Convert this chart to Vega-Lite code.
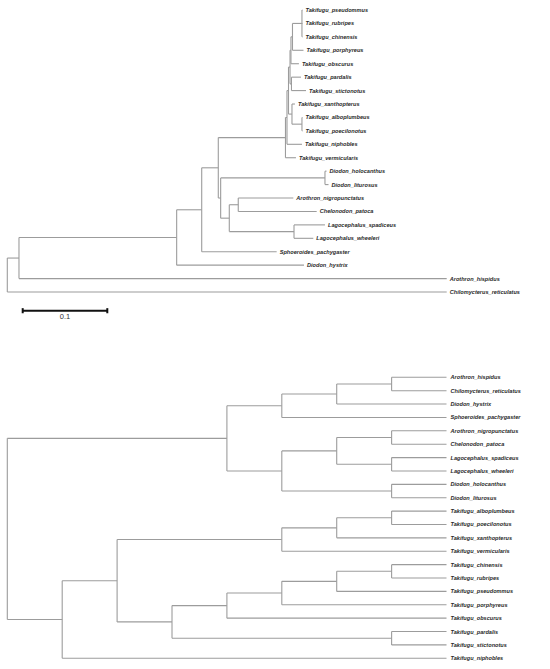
{
  "$schema": "https://vega.github.io/schema/vega-lite/v6.json",
  "padding": 0,
  "spacing": 0,
  "background": "white",
  "config": {"view": {"stroke": null}, "concat": {"spacing": 0}},
  "datasets": {
    "topV": [
      {"node": "P1", "x": 0.3483, "y": 1, "y2": 3},
      {"node": "P2", "x": 0.3371, "y": 2, "y2": 4},
      {"node": "P3", "x": 0.3353, "y": 3, "y2": 5},
      {"node": "P4", "x": 0.3359, "y": 6, "y2": 7},
      {"node": "P5", "x": 0.3342, "y": 4, "y2": 6.5},
      {"node": "X1", "x": 0.3483, "y": 9, "y2": 10},
      {"node": "X2", "x": 0.3365, "y": 8, "y2": 9.5},
      {"node": "T2", "x": 0.3324, "y": 5.25, "y2": 8.75},
      {"node": "T1", "x": 0.3306, "y": 7, "y2": 11},
      {"node": "T0", "x": 0.3288, "y": 9, "y2": 12},
      {"node": "Dio", "x": 0.3755, "y": 13, "y2": 14},
      {"node": "G", "x": 0.273, "y": 15, "y2": 16},
      {"node": "H", "x": 0.3389, "y": 17, "y2": 18},
      {"node": "F", "x": 0.2624, "y": 15.5, "y2": 17.5},
      {"node": "E", "x": 0.2522, "y": 13.5, "y2": 16.5},
      {"node": "D", "x": 0.2494, "y": 10.5, "y2": 15},
      {"node": "C", "x": 0.2298, "y": 12.75, "y2": 19},
      {"node": "B", "x": 0.2002, "y": 15.875, "y2": 20},
      {"node": "A", "x": 0.0138, "y": 17.94, "y2": 21},
      {"node": "R", "x": 0, "y": 19.47, "y2": 22}
    ],
    "topH": [
      {"x": 0.3483, "x2": 0.3489, "y": 1},
      {"x": 0.3483, "x2": 0.3489, "y": 2},
      {"x": 0.3483, "x2": 0.3489, "y": 3},
      {"x": 0.3371, "x2": 0.3483, "y": 2},
      {"x": 0.3371, "x2": 0.3501, "y": 4},
      {"x": 0.3353, "x2": 0.3371, "y": 3},
      {"x": 0.3353, "x2": 0.3447, "y": 5},
      {"x": 0.3359, "x2": 0.3471, "y": 6},
      {"x": 0.3359, "x2": 0.3531, "y": 7},
      {"x": 0.3342, "x2": 0.3353, "y": 4},
      {"x": 0.3342, "x2": 0.3359, "y": 6.5},
      {"x": 0.3483, "x2": 0.3489, "y": 9},
      {"x": 0.3483, "x2": 0.3489, "y": 10},
      {"x": 0.3365, "x2": 0.34, "y": 8},
      {"x": 0.3365, "x2": 0.3483, "y": 9.5},
      {"x": 0.3324, "x2": 0.3342, "y": 5.25},
      {"x": 0.3324, "x2": 0.3365, "y": 8.75},
      {"x": 0.3306, "x2": 0.3324, "y": 7},
      {"x": 0.3306, "x2": 0.3483, "y": 11},
      {"x": 0.3288, "x2": 0.3306, "y": 9},
      {"x": 0.3288, "x2": 0.3412, "y": 12},
      {"x": 0.3755, "x2": 0.3773, "y": 13},
      {"x": 0.3755, "x2": 0.3797, "y": 14},
      {"x": 0.273, "x2": 0.3381, "y": 15},
      {"x": 0.273, "x2": 0.3657, "y": 16},
      {"x": 0.3389, "x2": 0.3755, "y": 17},
      {"x": 0.3389, "x2": 0.3617, "y": 18},
      {"x": 0.2624, "x2": 0.273, "y": 15.5},
      {"x": 0.2624, "x2": 0.3389, "y": 17.5},
      {"x": 0.2522, "x2": 0.3755, "y": 13.5},
      {"x": 0.2522, "x2": 0.2624, "y": 16.5},
      {"x": 0.2494, "x2": 0.3288, "y": 10.5},
      {"x": 0.2494, "x2": 0.2522, "y": 15},
      {"x": 0.2298, "x2": 0.2494, "y": 12.75},
      {"x": 0.2298, "x2": 0.3184, "y": 19},
      {"x": 0.2002, "x2": 0.2298, "y": 15.875},
      {"x": 0.2002, "x2": 0.3507, "y": 20},
      {"x": 0.0138, "x2": 0.2002, "y": 17.94},
      {"x": 0.0138, "x2": 0.5194, "y": 21},
      {"x": 0, "x2": 0.0138, "y": 19.47},
      {"x": 0, "x2": 0.5194, "y": 22}
    ],
    "topTips": [
      {"name": "Takifugu_pseudommus", "x": 0.3489, "y": 1},
      {"name": "Takifugu_rubripes", "x": 0.3489, "y": 2},
      {"name": "Takifugu_chinensis", "x": 0.3489, "y": 3},
      {"name": "Takifugu_porphyreus", "x": 0.3501, "y": 4},
      {"name": "Takifugu_obscurus", "x": 0.3447, "y": 5},
      {"name": "Takifugu_pardalis", "x": 0.3471, "y": 6},
      {"name": "Takifugu_stictonotus", "x": 0.3531, "y": 7},
      {"name": "Takifugu_xanthopterus", "x": 0.34, "y": 8},
      {"name": "Takifugu_alboplumbeus", "x": 0.3489, "y": 9},
      {"name": "Takifugu_poecilonotus", "x": 0.3489, "y": 10},
      {"name": "Takifugu_niphobles", "x": 0.3483, "y": 11},
      {"name": "Takifugu_vermicularis", "x": 0.3412, "y": 12},
      {"name": "Diodon_holocanthus", "x": 0.3773, "y": 13},
      {"name": "Diodon_liturosus", "x": 0.3797, "y": 14},
      {"name": "Arothron_nigropunctatus", "x": 0.3381, "y": 15},
      {"name": "Chelonodon_patoca", "x": 0.3657, "y": 16},
      {"name": "Lagocephalus_spadiceus", "x": 0.3755, "y": 17},
      {"name": "Lagocephalus_wheeleri", "x": 0.3617, "y": 18},
      {"name": "Sphoeroides_pachygaster", "x": 0.3184, "y": 19},
      {"name": "Diodon_hystrix", "x": 0.3507, "y": 20},
      {"name": "Arothron_hispidus", "x": 0.5194, "y": 21},
      {"name": "Chilomycterus_reticulatus", "x": 0.5194, "y": 22}
    ],
    "scaleBar": [
      {"x": 0.0182, "x2": 0.1182, "y": 23.39, "y2": 23.39},
      {"x": 0.0182, "x2": 0.0182, "y": 23.2, "y2": 23.58},
      {"x": 0.1182, "x2": 0.1182, "y": 23.2, "y2": 23.58}
    ],
    "scaleLabel": [{"label": "0.1", "x": 0.0682, "y": 23.85}],
    "botV": [
      {"x": 7, "y": 1, "y2": 2},
      {"x": 6, "y": 1.5, "y2": 3},
      {"x": 5, "y": 2.25, "y2": 4},
      {"x": 7, "y": 5, "y2": 6},
      {"x": 7, "y": 7, "y2": 8},
      {"x": 6, "y": 5.5, "y2": 7.5},
      {"x": 7, "y": 9, "y2": 10},
      {"x": 5, "y": 6.5, "y2": 9.5},
      {"x": 4, "y": 3.125, "y2": 8},
      {"x": 7, "y": 11, "y2": 12},
      {"x": 6, "y": 11.5, "y2": 13},
      {"x": 5, "y": 12.25, "y2": 14},
      {"x": 7, "y": 15, "y2": 16},
      {"x": 6, "y": 15.5, "y2": 17},
      {"x": 5, "y": 16.25, "y2": 18},
      {"x": 4, "y": 17.125, "y2": 19},
      {"x": 7, "y": 20, "y2": 21},
      {"x": 3, "y": 18.0625, "y2": 20.5},
      {"x": 2, "y": 13.125, "y2": 19.28125},
      {"x": 1, "y": 16.203125, "y2": 22},
      {"x": 0, "y": 5.5625, "y2": 19.1015625}
    ],
    "botH": [
      {"x": 7, "x2": 8, "y": 1},
      {"x": 7, "x2": 8, "y": 2},
      {"x": 6, "x2": 7, "y": 1.5},
      {"x": 6, "x2": 8, "y": 3},
      {"x": 5, "x2": 6, "y": 2.25},
      {"x": 5, "x2": 8, "y": 4},
      {"x": 7, "x2": 8, "y": 5},
      {"x": 7, "x2": 8, "y": 6},
      {"x": 7, "x2": 8, "y": 7},
      {"x": 7, "x2": 8, "y": 8},
      {"x": 6, "x2": 7, "y": 5.5},
      {"x": 6, "x2": 7, "y": 7.5},
      {"x": 7, "x2": 8, "y": 9},
      {"x": 7, "x2": 8, "y": 10},
      {"x": 5, "x2": 6, "y": 6.5},
      {"x": 5, "x2": 7, "y": 9.5},
      {"x": 4, "x2": 5, "y": 3.125},
      {"x": 4, "x2": 5, "y": 8},
      {"x": 0, "x2": 4, "y": 5.5625},
      {"x": 0, "x2": 1, "y": 19.1015625},
      {"x": 7, "x2": 8, "y": 11},
      {"x": 7, "x2": 8, "y": 12},
      {"x": 6, "x2": 7, "y": 11.5},
      {"x": 6, "x2": 8, "y": 13},
      {"x": 5, "x2": 6, "y": 12.25},
      {"x": 5, "x2": 8, "y": 14},
      {"x": 7, "x2": 8, "y": 15},
      {"x": 7, "x2": 8, "y": 16},
      {"x": 6, "x2": 7, "y": 15.5},
      {"x": 6, "x2": 8, "y": 17},
      {"x": 5, "x2": 6, "y": 16.25},
      {"x": 5, "x2": 8, "y": 18},
      {"x": 4, "x2": 5, "y": 17.125},
      {"x": 4, "x2": 8, "y": 19},
      {"x": 7, "x2": 8, "y": 20},
      {"x": 7, "x2": 8, "y": 21},
      {"x": 3, "x2": 4, "y": 18.0625},
      {"x": 3, "x2": 7, "y": 20.5},
      {"x": 2, "x2": 5, "y": 13.125},
      {"x": 2, "x2": 3, "y": 19.28125},
      {"x": 1, "x2": 2, "y": 16.203125},
      {"x": 1, "x2": 8, "y": 22}
    ],
    "botTips": [
      {"name": "Arothron_hispidus", "x": 8, "y": 1},
      {"name": "Chilomycterus_reticulatus", "x": 8, "y": 2},
      {"name": "Diodon_hystrix", "x": 8, "y": 3},
      {"name": "Sphoeroides_pachygaster", "x": 8, "y": 4},
      {"name": "Arothron_nigropunctatus", "x": 8, "y": 5},
      {"name": "Chelonodon_patoca", "x": 8, "y": 6},
      {"name": "Lagocephalus_spadiceus", "x": 8, "y": 7},
      {"name": "Lagocephalus_wheeleri", "x": 8, "y": 8},
      {"name": "Diodon_holocanthus", "x": 8, "y": 9},
      {"name": "Diodon_liturosus", "x": 8, "y": 10},
      {"name": "Takifugu_alboplumbeus", "x": 8, "y": 11},
      {"name": "Takifugu_poecilonotus", "x": 8, "y": 12},
      {"name": "Takifugu_xanthopterus", "x": 8, "y": 13},
      {"name": "Takifugu_vermicularis", "x": 8, "y": 14},
      {"name": "Takifugu_chinensis", "x": 8, "y": 15},
      {"name": "Takifugu_rubripes", "x": 8, "y": 16},
      {"name": "Takifugu_pseudommus", "x": 8, "y": 17},
      {"name": "Takifugu_porphyreus", "x": 8, "y": 18},
      {"name": "Takifugu_obscurus", "x": 8, "y": 19},
      {"name": "Takifugu_pardalis", "x": 8, "y": 20},
      {"name": "Takifugu_stictonotus", "x": 8, "y": 21},
      {"name": "Takifugu_niphobles", "x": 8, "y": 22}
    ]
  },
  "vconcat": [
    {
      "width": 550,
      "height": 330,
      "layer": [
        {
          "data": {"name": "topV"},
          "mark": {"type": "rule", "color": "#9c9c9c", "strokeWidth": 1.1},
          "encoding": {
            "x": {"field": "x", "type": "quantitative", "scale": {"domain": [-0.00863, 0.6415], "nice": false, "zero": false}, "axis": null},
            "y": {"field": "y", "type": "quantitative", "scale": {"domain": [0.2554, 24.827], "reverse": true, "nice": false, "zero": false}, "axis": null},
            "y2": {"field": "y2"}
          }
        },
        {
          "data": {"name": "topH"},
          "mark": {"type": "rule", "color": "#9c9c9c", "strokeWidth": 1.1},
          "encoding": {
            "x": {"field": "x", "type": "quantitative"},
            "x2": {"field": "x2"},
            "y": {"field": "y", "type": "quantitative"}
          }
        },
        {
          "data": {"name": "topTips"},
          "mark": {"type": "text", "align": "left", "baseline": "middle", "dx": 3, "font": "Liberation Sans", "fontSize": 5.6, "fontStyle": "italic", "fontWeight": "bold", "color": "#2a2a2a"},
          "encoding": {
            "x": {"field": "x", "type": "quantitative"},
            "y": {"field": "y", "type": "quantitative"},
            "text": {"field": "name"}
          }
        },
        {
          "data": {"name": "scaleBar"},
          "mark": {"type": "rule", "color": "#111111", "strokeWidth": 2},
          "encoding": {
            "x": {"field": "x", "type": "quantitative"},
            "x2": {"field": "x2"},
            "y": {"field": "y", "type": "quantitative"},
            "y2": {"field": "y2"}
          }
        },
        {
          "data": {"name": "scaleLabel"},
          "mark": {"type": "text", "align": "center", "baseline": "middle", "font": "Liberation Sans", "fontSize": 7.5, "color": "#333333"},
          "encoding": {
            "x": {"field": "x", "type": "quantitative"},
            "y": {"field": "y", "type": "quantitative"},
            "text": {"field": "label"}
          }
        }
      ]
    },
    {
      "width": 550,
      "height": 339,
      "layer": [
        {
          "data": {"name": "botV"},
          "mark": {"type": "rule", "color": "#9c9c9c", "strokeWidth": 1.1},
          "encoding": {
            "x": {"field": "x", "type": "quantitative", "scale": {"domain": [-0.133, 9.885], "nice": false, "zero": false}, "axis": null},
            "y": {"field": "y", "type": "quantitative", "scale": {"domain": [-2.535, 22.8], "reverse": true, "nice": false, "zero": false}, "axis": null},
            "y2": {"field": "y2"}
          }
        },
        {
          "data": {"name": "botH"},
          "mark": {"type": "rule", "color": "#9c9c9c", "strokeWidth": 1.1},
          "encoding": {
            "x": {"field": "x", "type": "quantitative"},
            "x2": {"field": "x2"},
            "y": {"field": "y", "type": "quantitative"}
          }
        },
        {
          "data": {"name": "botTips"},
          "mark": {"type": "text", "align": "left", "baseline": "middle", "dx": 4, "font": "Liberation Sans", "fontSize": 5.6, "fontStyle": "italic", "fontWeight": "bold", "color": "#2a2a2a"},
          "encoding": {
            "x": {"field": "x", "type": "quantitative"},
            "y": {"field": "y", "type": "quantitative"},
            "text": {"field": "name"}
          }
        }
      ]
    }
  ]
}
